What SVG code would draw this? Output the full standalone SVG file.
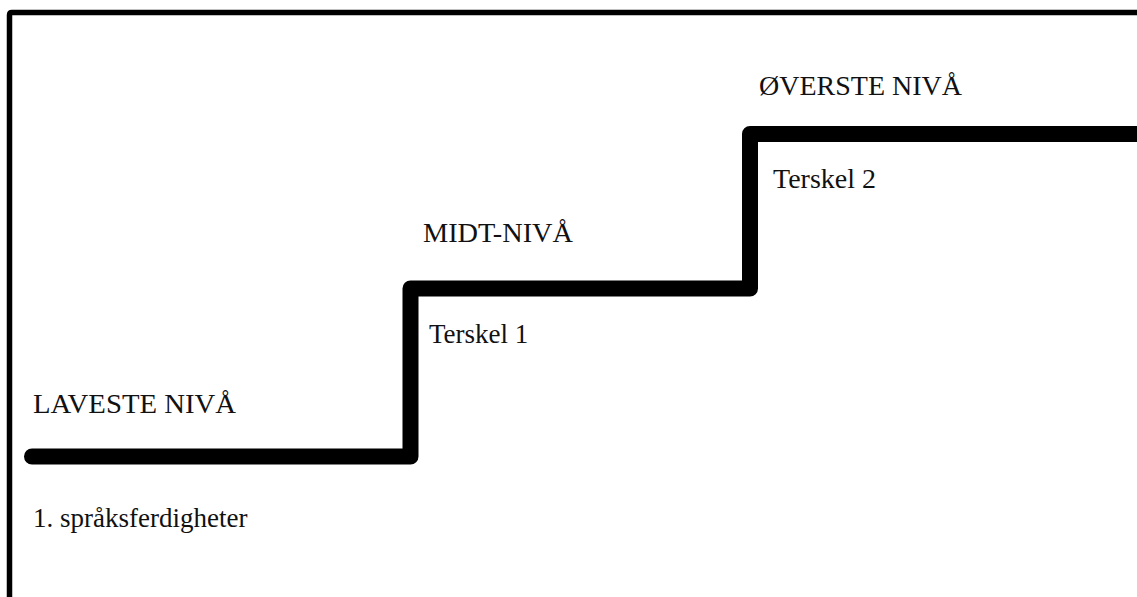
<svg xmlns="http://www.w3.org/2000/svg" width="1137" height="597" viewBox="0 0 1137 597">
<style>
.lbl{font-family:"Liberation Serif","Times New Roman",serif;font-size:27px;fill:#111}
.frame{fill:none;stroke:#000;stroke-width:5.5}
.stair{fill:none;stroke:#000;stroke-width:16;stroke-linejoin:round;stroke-linecap:round}
</style>
<rect width="1137" height="597" fill="#fff"/>
<path class="frame" d="M9.5 597 V15 Q9.5 12.5 12 12.5 H1137"/>
<g id="connectors">
<path class="stair" d="M32 456.5 H410.5 V288.5 H750 V134 H1150"/>
</g>
<g id="laveste"><text class="lbl" x="33" y="413" textLength="203" lengthAdjust="spacingAndGlyphs">LAVESTE NIVÅ</text></g>
<g id="ferdigheter"><text class="lbl" x="33" y="527">1. språksferdigheter</text></g>
<g id="midt"><text class="lbl" x="423" y="242" textLength="150" lengthAdjust="spacingAndGlyphs">MIDT-NIVÅ</text></g>
<g id="terskel1"><text class="lbl" x="429" y="343">Terskel 1</text></g>
<g id="overste"><text class="lbl" x="759" y="95" textLength="203" lengthAdjust="spacingAndGlyphs">ØVERSTE NIVÅ</text></g>
<g id="terskel2"><text class="lbl" x="773" y="188" textLength="103" lengthAdjust="spacingAndGlyphs">Terskel 2</text></g>
</svg>
